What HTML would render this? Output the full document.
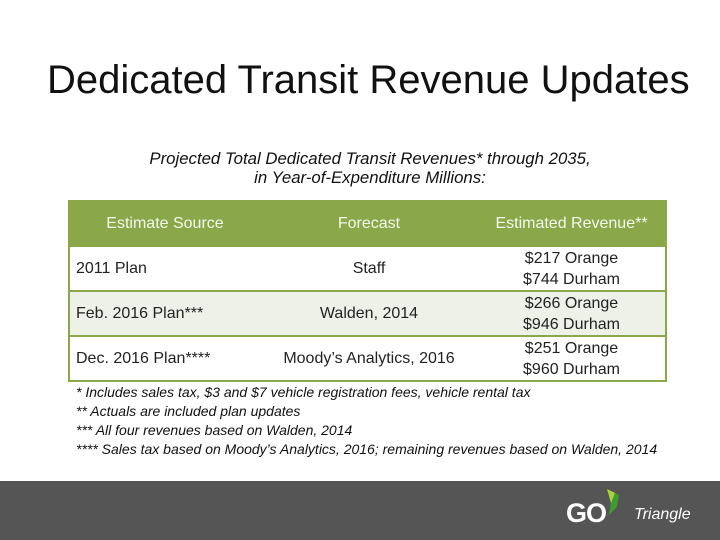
<!DOCTYPE html>
<html><head><meta charset="utf-8"><style>
body{margin:0;width:720px;height:540px;background:#fff;position:relative;overflow:hidden;font-family:"Liberation Sans",sans-serif}
.t{position:absolute;white-space:nowrap}
table{position:absolute;left:68px;top:200px;width:599px;border-collapse:collapse;font-size:16px;color:#222;border:2px solid #8aa84a}
td,th{border-top:2px solid #8aa84a;border-bottom:2px solid #8aa84a;padding:0;height:43px}
th{background:#8aa84a;color:#f4f7ec;font-weight:normal;height:43px}
td{line-height:21px}
.c{text-align:center}
.l{text-align:left;padding-left:6px}
tr.alt td{background:#eef1e7}
</style></head><body>
<div class="t" style="left:47px;top:58px;font-size:40px;color:#111">Dedicated Transit Revenue Updates</div>
<div class="t" style="left:0;width:740px;top:149px;text-align:center;font-size:16.8px;font-style:italic;line-height:19px;color:#111">Projected Total Dedicated Transit Revenues* through 2035,<br>in Year-of-Expenditure Millions:</div>
<table>
<tr><th style="width:190px">Estimate Source</th><th style="width:218px">Forecast</th><th>Estimated Revenue**</th></tr>
<tr><td class="l">2011 Plan</td><td class="c">Staff</td><td class="c">$217 Orange<br>$744 Durham</td></tr>
<tr class="alt"><td class="l">Feb. 2016 Plan***</td><td class="c">Walden, 2014</td><td class="c">$266 Orange<br>$946 Durham</td></tr>
<tr><td class="l">Dec. 2016 Plan****</td><td class="c">Moody’s Analytics, 2016</td><td class="c">$251 Orange<br>$960 Durham</td></tr>
</table>
<div class="t" style="left:76px;top:383px;font-size:14px;font-style:italic;line-height:19px;color:#111">* Includes sales tax, $3 and $7 vehicle registration fees, vehicle rental tax<br>** Actuals are included plan updates<br>*** All four revenues based on Walden, 2014<br>**** Sales tax based on Moody’s Analytics, 2016; remaining revenues based on Walden, 2014</div>
<div style="position:absolute;left:0;top:481px;width:720px;height:59px;background:#555"></div>
<div class="t" style="left:566px;top:498px;font-size:27px;font-weight:bold;color:#fff;letter-spacing:-1px">GO</div>
<svg style="position:absolute;left:605px;top:489px" width="24" height="28"><polygon points="2,0 14,6 12,18 4,26 6,14" fill="#3f9a2f"/><polygon points="2,0 10,4 6,14" fill="#a6d23a"/></svg>
<div class="t" style="left:634px;top:506px;font-size:16px;font-style:italic;color:#fff">Triangle</div>
</body></html>
